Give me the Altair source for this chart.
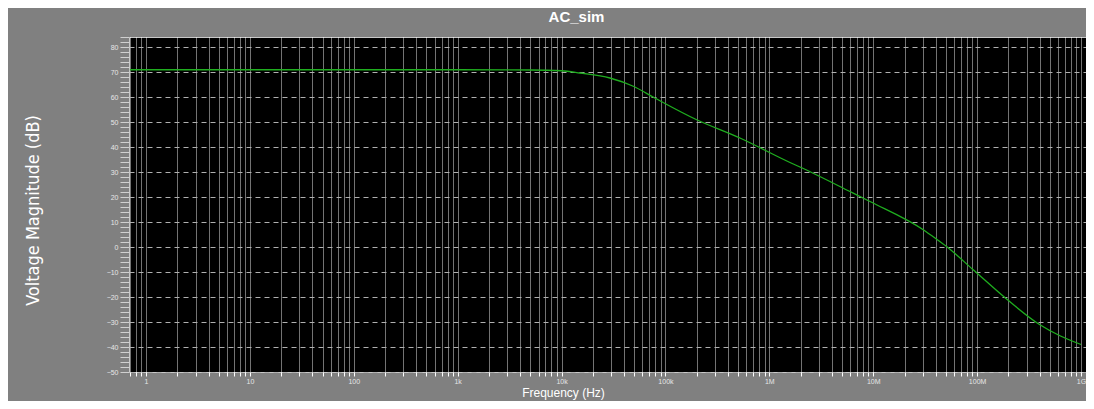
import altair as alt
import pandas as pd

# --- data ---
freq_hz = [0.7, 1, 10, 100, 1e3, 5e3, 1e4, 1.5e4, 2.92e4, 4.9e4, 7.9e4, 2.0e5, 5.21e5,
           1.58e6, 1.97e6, 5.97e6, 9.3e6, 3.03e7, 3.93e7, 5.08e7, 9.16e7, 1.92e8,
           4.02e8, 6.27e8, 1e9]
mag_db = [70.9, 70.9, 70.9, 70.9, 70.9, 70.8, 70.5, 69.6, 67.6, 64.3, 59.6, 50.9, 43.6,
          33.8, 32.0, 22.2, 18.2, 6.9, 3.6, 0.2, -9.1, -20.8,
          -31.1, -35.5, -39.0]

# axis ticks
decade_labels = ["1", "10", "100", "1000", "10000", "100000", "1000000",
                 "10000000", "100000000", "1000000000"]
x_ticks = [0.7, 0.8, 0.9] + [m * 10 ** e for e in range(0, 9) for m in range(1, 10)] + [1e9]
y_ticks = list(range(-50, 85, 2))

df = pd.DataFrame({"freq": freq_hz, "db": mag_db})

label_list = "[" + ",".join("'" + s + "'" for s in decade_labels) + "]"
x_label_expr = (f"indexof({label_list}, toString(datum.value)) >= 0 "
                f"? format(datum.value, '~s') : ''")

x_axis = alt.Axis(
    values=x_ticks,
    labelExpr=x_label_expr,
    labelOverlap=False,
    labelFlush=False,
    labelColor="#e6e6e6",
    labelFontSize=7,
    labelFont="Liberation Sans",
    labelPadding=1,
    tickColor="#ffffff",
    tickSize=4,
    domain=False,
    grid=True,
    gridColor="#ffffff",
    gridDash=[1, 1],
    gridOpacity=0.9,
    gridWidth=1,
    title="Frequency (Hz)",
    titleColor="#ffffff",
    titleFont="Liberation Sans",
    titleFontSize=12,
    titleFontWeight="normal",
    titleX=434,
    titleY=24,
    titleBaseline="alphabetic",
    titleAnchor="middle",
    titleAlign="center",
)

y_axis = alt.Axis(
    values=y_ticks,
    labelExpr="datum.value % 10 === 0 ? datum.label : ''",
    labelOverlap=False,
    labelFlush=False,
    labelColor="#e6e6e6",
    labelFontSize=7,
    labelFont="Liberation Sans",
    labelPadding=2,
    tickColor="#d0d0d0",
    tickSize=9,
    domain=False,
    grid=True,
    gridColor="#b0b0b0",
    gridDash=[5, 4],
    gridWidth=1,
    gridOpacity={"condition": {"test": "datum.value % 10 === 0", "value": 1}, "value": 0},
    title="Voltage Magnitude (dB)",
    titleColor="#ffffff",
    titleFont="Liberation Sans Narrow, DejaVu Sans Condensed, Liberation Sans",
    titleFontSize=18,
    titleFontWeight="normal",
    titleX=-96,
    titleY=173,
    titleAngle=270,
    titleAlign="center",
    titleBaseline="middle",
)

chart = (
    alt.Chart(df)
    .mark_line(color="#1fae1f", strokeWidth=1.3, interpolate="monotone")
    .encode(
        x=alt.X("freq:Q", scale=alt.Scale(type="log", domain=[0.686, 1.117e9], nice=False), axis=x_axis),
        y=alt.Y("db:Q", scale=alt.Scale(domain=[-50, 84], nice=False, zero=False), axis=y_axis),
    )
    .properties(
        width=957,
        height=335,
        title=alt.TitleParams(
            "AC_sim",
            color="#ffffff",
            font="Liberation Sans",
            fontSize=15,
            fontWeight="bold",
            anchor="middle",
            dx=-31,
            offset=8,
        ),
        autosize=alt.AutoSizeParams(type="none"),
        padding={"left": 121, "top": 29, "right": 0, "bottom": 29},
        background="#808080",
    )
    .configure_view(fill="#000000", stroke="#c8c8c8", strokeWidth=1)
)

chart.save("out.html", embed_options={"renderer": "svg", "actions": False})
